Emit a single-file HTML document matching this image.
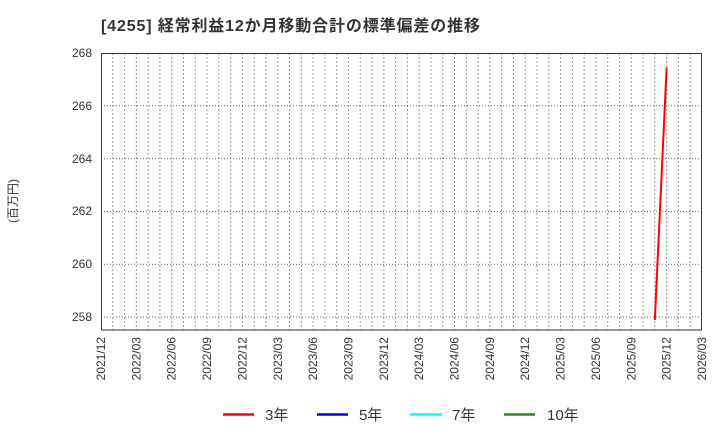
<!DOCTYPE html>
<html><head><meta charset="utf-8"><style>
html,body{margin:0;padding:0;background:#fff;width:720px;height:440px;overflow:hidden}
text{font-family:"Liberation Sans","Noto Sans CJK JP",sans-serif;fill:#333}
</style></head><body>
<svg width="720" height="440" xmlns="http://www.w3.org/2000/svg">
<text x="101" y="31" font-size="16" font-weight="bold" textLength="379" lengthAdjust="spacing">[4255]  経常利益12か月移動合計の標準偏差の推移</text>
<g stroke="#999" stroke-width="1" stroke-dasharray="2,2" fill="none">
<path d="M112.78 53V330M124.57 53V330M136.35 53V330M148.14 53V330M159.92 53V330M171.7 53V330M183.49 53V330M195.27 53V330M207.06 53V330M218.84 53V330M230.62 53V330M242.41 53V330M254.19 53V330M265.98 53V330M277.76 53V330M289.54 53V330M301.33 53V330M313.11 53V330M324.9 53V330M336.68 53V330M348.46 53V330M360.25 53V330M372.03 53V330M383.82 53V330M395.6 53V330M407.38 53V330M419.17 53V330M430.95 53V330M442.74 53V330M454.52 53V330M466.3 53V330M478.09 53V330M489.87 53V330M501.66 53V330M513.44 53V330M525.22 53V330M537.01 53V330M548.79 53V330M560.58 53V330M572.36 53V330M584.14 53V330M595.93 53V330M607.71 53V330M619.5 53V330M631.28 53V330M643.06 53V330M654.85 53V330M666.63 53V330M678.42 53V330M690.2 53V330"/>
</g>
<g stroke="#666" stroke-width="1" stroke-dasharray="1,2" fill="none">
<path d="M101 105.8H702M101 158.6H702M101 211.4H702M101 264.2H702M101 317H702"/>
</g>
<rect x="101.5" y="53.5" width="600" height="276.5" fill="none" stroke="#333" stroke-width="1"/>
<g font-size="12" text-anchor="end">
<text x="92" y="57">268</text>
<text x="92" y="110">266</text>
<text x="92" y="163">264</text>
<text x="92" y="215">262</text>
<text x="92" y="268">260</text>
<text x="92" y="321">258</text>
</g>
<text transform="translate(17,201) rotate(-90)" font-size="12" text-anchor="middle">(百万円)</text>
<g font-size="12" text-anchor="end">
<text transform="translate(105,337) rotate(-90)">2021/12</text>
<text transform="translate(140.4,337) rotate(-90)">2022/03</text>
<text transform="translate(175.7,337) rotate(-90)">2022/06</text>
<text transform="translate(211.1,337) rotate(-90)">2022/09</text>
<text transform="translate(246.4,337) rotate(-90)">2022/12</text>
<text transform="translate(281.8,337) rotate(-90)">2023/03</text>
<text transform="translate(317.1,337) rotate(-90)">2023/06</text>
<text transform="translate(352.5,337) rotate(-90)">2023/09</text>
<text transform="translate(387.8,337) rotate(-90)">2023/12</text>
<text transform="translate(423.2,337) rotate(-90)">2024/03</text>
<text transform="translate(458.5,337) rotate(-90)">2024/06</text>
<text transform="translate(493.9,337) rotate(-90)">2024/09</text>
<text transform="translate(529.2,337) rotate(-90)">2024/12</text>
<text transform="translate(564.6,337) rotate(-90)">2025/03</text>
<text transform="translate(599.9,337) rotate(-90)">2025/06</text>
<text transform="translate(635.3,337) rotate(-90)">2025/09</text>
<text transform="translate(670.6,337) rotate(-90)">2025/12</text>
<text transform="translate(706,337) rotate(-90)">2026/03</text>
</g>
<line x1="654.85" y1="320" x2="666.63" y2="67.5" stroke="#f00" stroke-width="2"/>
<g stroke-width="2.5">
<line x1="223" y1="414.5" x2="254" y2="414.5" stroke="#f00"/>
<line x1="317" y1="414.5" x2="348" y2="414.5" stroke="#00f"/>
<line x1="410" y1="414.5" x2="442" y2="414.5" stroke="#0ff"/>
<line x1="504" y1="414.5" x2="535" y2="414.5" stroke="#228b22"/>
</g>
<g font-size="15">
<text x="265" y="420">3年</text>
<text x="359" y="420">5年</text>
<text x="452" y="420">7年</text>
<text x="547" y="420">10年</text>
</g>
</svg>
</body></html>
